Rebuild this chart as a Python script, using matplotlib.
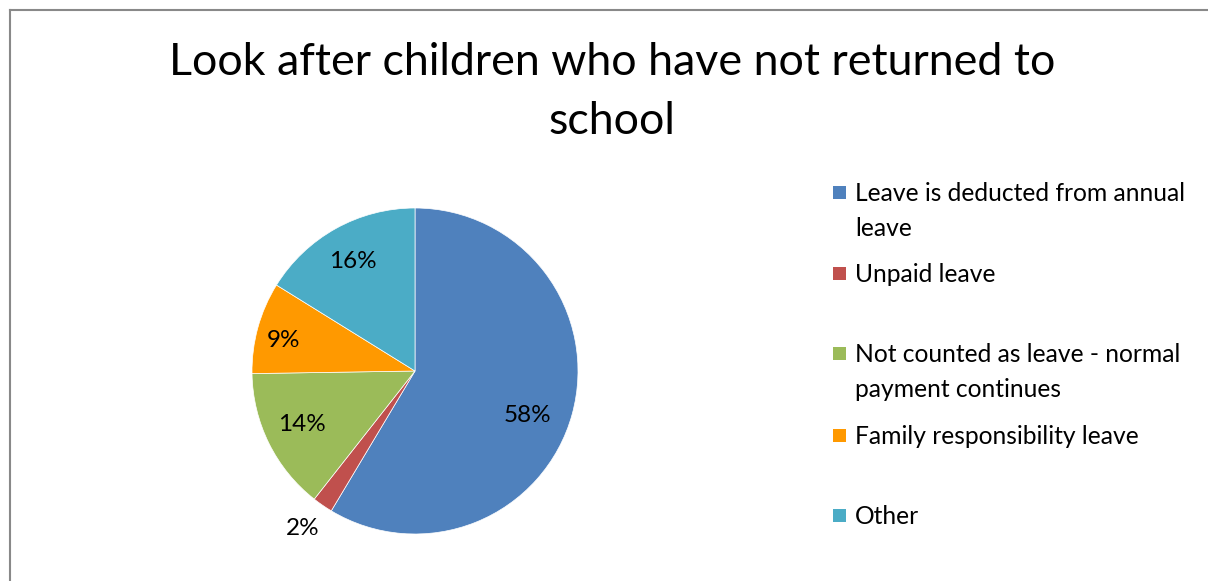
import matplotlib
matplotlib.use("Agg")
import matplotlib.pyplot as plt
from matplotlib.lines import Line2D
from matplotlib.patches import Rectangle
import numpy as np

plt.rcParams["font.family"] = ["Lato", "DejaVu Sans"]

# Chart data
title = "Look after children who have not returned to\nschool"
categories = [
    "Leave is deducted from annual\nleave",
    "Unpaid leave",
    "Not counted as leave - normal\npayment continues",
    "Family responsibility leave",
    "Other",
]
shares = [58, 2, 14, 9, 16]
colors = ["#4F81BD", "#C0504D", "#9BBB59", "#FF9900", "#4BACC6"]

W, H = 1208, 581
fig = plt.figure(figsize=(W / 100, H / 100), dpi=100)
fig.patch.set_facecolor("white")

# chart-area border (left and top edges fall inside the canvas)
fx, fy = 10 / W, 1 - 10 / H
fig.add_artist(Line2D([fx, fx], [-0.05, fy], transform=fig.transFigure,
                      color="#898989", lw=1.5))
fig.add_artist(Line2D([fx, 1.05], [fy, fy], transform=fig.transFigure,
                      color="#898989", lw=1.5))

# pie axes, centred at pixel (415, 371) with radius ~163 px
cx, cy, r = 415, 371, 163
ax = fig.add_axes([(cx - r) / W, (H - cy - r) / H, 2 * r / W, 2 * r / H])
wedges, _ = ax.pie(shares, colors=colors, startangle=90, counterclock=False,
                   radius=1, wedgeprops=dict(edgecolor="white", linewidth=0.5))
ax.set_xlim(-1, 1)
ax.set_ylim(-1, 1)
ax.set_aspect("equal")
ax.axis("off")

# percentage labels
label_dist = [0.74, 1.19, 0.77, 0.83, 0.77]
angle_nudge = [-6, -1, -1, 2.5, 0.5]
for w, v, d, nd in zip(wedges, shares, label_dist, angle_nudge):
    mid = np.deg2rad((w.theta1 + w.theta2) / 2 + nd)
    ax.text(d * np.cos(mid), d * np.sin(mid), f"{v}%", ha="center",
            va="center", fontsize=17.5, color="black", clip_on=False)

fig.text(612 / W, 1 - 42 / H, title, ha="center", va="top",
         fontsize=32.2, color="black", linespacing=1.55)

# legend
legend_y = [192, 273, 353, 435, 515]
for lab, col, y in zip(categories, colors, legend_y):
    fig.add_artist(Rectangle((833 / W, 1 - (y + 7) / H), 13 / W, 13 / H,
                             transform=fig.transFigure, facecolor=col,
                             edgecolor="none"))
    fig.text(855 / W, 1 - (y - 10) / H, lab, ha="left", va="top",
             fontsize=17.7, color="black", linespacing=1.62)

fig.savefig("out.png", dpi=100)
